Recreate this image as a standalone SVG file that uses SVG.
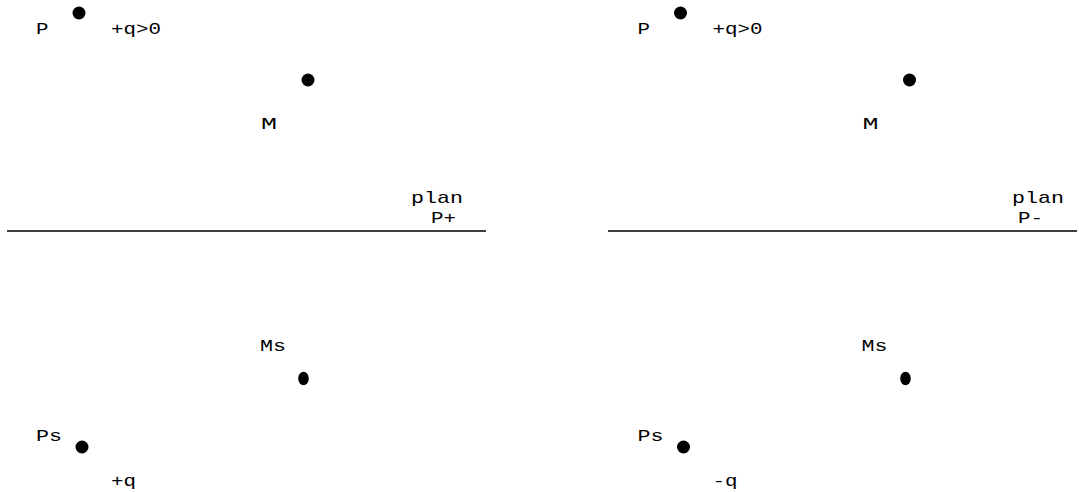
<svg xmlns="http://www.w3.org/2000/svg" width="1079" height="492" viewBox="0 0 1079 492">
<style>
.t{font-family:"Liberation Mono","DejaVu Sans Mono",monospace;font-size:17px;fill:#000}
.d{fill:#000}
.ln{stroke:#000;stroke-width:1.3}
</style>
<rect width="1079" height="492" fill="#fff"/>
<g id="connectors">
<line class="ln" x1="7" y1="231" x2="486" y2="231"/>
<line class="ln" x1="608" y1="231" x2="1077" y2="231"/>
</g>
<g id="left">
<g id="P1"><circle class="d" cx="79" cy="13" r="6.5"/><text class="t" x="36" y="34" textLength="12.5" lengthAdjust="spacingAndGlyphs">P</text></g>
<g id="q1"><text class="t" x="111" y="34" textLength="50" lengthAdjust="spacingAndGlyphs">+q&gt;0</text></g>
<g id="M1"><circle class="d" cx="308" cy="80" r="6.5"/><text class="t" x="261" y="129" textLength="16" lengthAdjust="spacingAndGlyphs">M</text></g>
<g id="plan1"><text class="t" x="411" y="203" textLength="52" lengthAdjust="spacingAndGlyphs">plan</text><text class="t" x="431" y="223" textLength="25" lengthAdjust="spacingAndGlyphs">P+</text></g>
<g id="Ms1"><ellipse class="d" cx="303.5" cy="378.5" rx="5.3" ry="6.7"/><text class="t" x="260" y="351" textLength="26" lengthAdjust="spacingAndGlyphs">Ms</text></g>
<g id="Ps1"><circle class="d" cx="82" cy="447" r="6.5"/><text class="t" x="36" y="441" textLength="26" lengthAdjust="spacingAndGlyphs">Ps</text></g>
<g id="qs1"><text class="t" x="111" y="486" textLength="25" lengthAdjust="spacingAndGlyphs">+q</text></g>
</g>
<g id="right">
<g id="P2"><circle class="d" cx="680.5" cy="13" r="6.5"/><text class="t" x="637.5" y="34" textLength="12.5" lengthAdjust="spacingAndGlyphs">P</text></g>
<g id="q2"><text class="t" x="712.5" y="34" textLength="50" lengthAdjust="spacingAndGlyphs">+q&gt;0</text></g>
<g id="M2"><circle class="d" cx="909.5" cy="80" r="6.5"/><text class="t" x="862.5" y="129" textLength="16" lengthAdjust="spacingAndGlyphs">M</text></g>
<g id="plan2"><text class="t" x="1012" y="203" textLength="52" lengthAdjust="spacingAndGlyphs">plan</text><text class="t" x="1018" y="223" textLength="25" lengthAdjust="spacingAndGlyphs">P-</text></g>
<g id="Ms2"><ellipse class="d" cx="905.5" cy="378.5" rx="5.3" ry="6.7"/><text class="t" x="861.5" y="351" textLength="26" lengthAdjust="spacingAndGlyphs">Ms</text></g>
<g id="Ps2"><circle class="d" cx="683.5" cy="447" r="6.5"/><text class="t" x="637.5" y="441" textLength="26" lengthAdjust="spacingAndGlyphs">Ps</text></g>
<g id="qs2"><text class="t" x="712.5" y="486" textLength="25" lengthAdjust="spacingAndGlyphs">-q</text></g>
</g>
</svg>
